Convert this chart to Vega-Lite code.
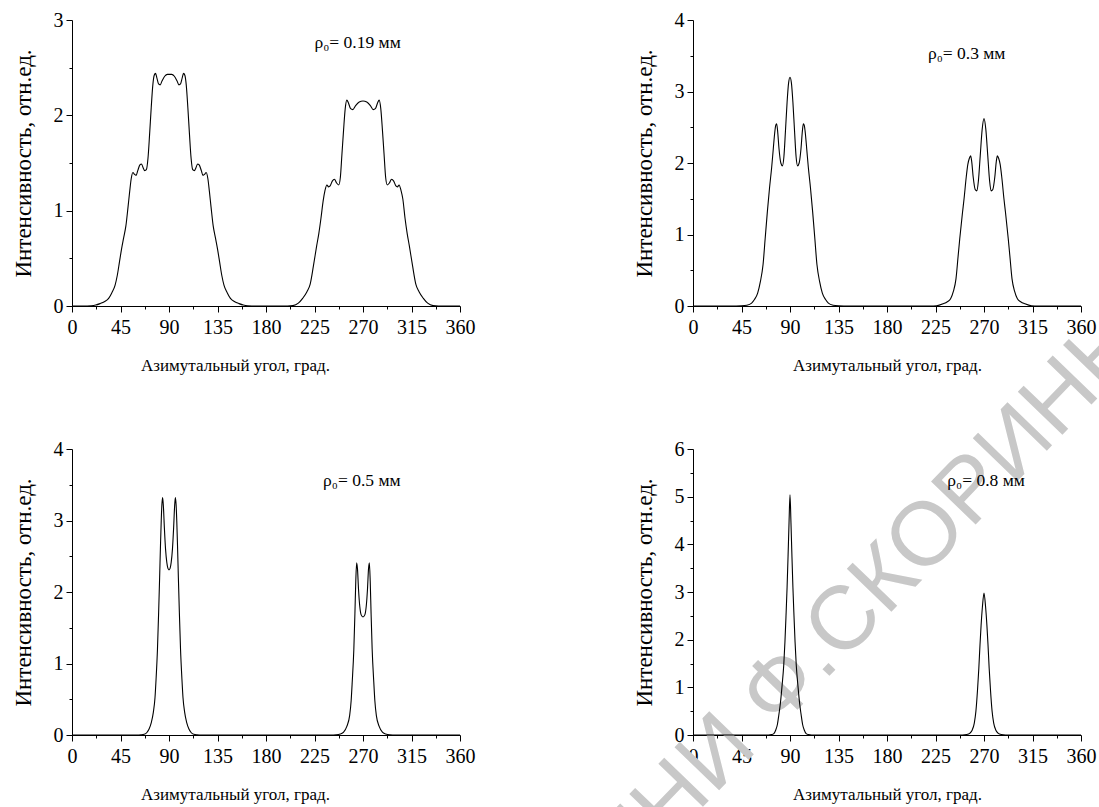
{
  "$schema": "https://vega.github.io/schema/vega-lite/v6.json",
  "background": "white",
  "padding": {"left": 12, "top": 10, "right": 0, "bottom": 0},
  "config": {
    "view": {"stroke": null},
    "font": "Liberation Serif",
    "axis": {
      "labelFont": "Liberation Serif", "titleFont": "Liberation Serif",
      "labelFontSize": 20, "labelColor": "#000", "titleColor": "#000",
      "titleFontWeight": "normal", "domainColor": "#000", "tickColor": "#000",
      "grid": false, "domainWidth": 1, "tickWidth": 1, "labelFlush": false, "labelOverlap": false
    }
  },
  "datasets": {
    "p1": [
      {"a":0,"i":0},{"a":10,"i":0},{"a":18,"i":0.003},{"a":22,"i":0.01},{"a":26,"i":0.025},{"a":30,"i":0.045},{"a":34,"i":0.08},{"a":37,"i":0.14},{"a":40,"i":0.22},{"a":42,"i":0.32},{"a":44,"i":0.46},{"a":46,"i":0.6},{"a":48,"i":0.72},{"a":50,"i":0.84},{"a":52,"i":1.04},{"a":53.5,"i":1.2},{"a":55,"i":1.34},{"a":56.5,"i":1.4},{"a":58,"i":1.38},{"a":59.5,"i":1.37},{"a":61,"i":1.42},{"a":63,"i":1.48},{"a":64.5,"i":1.49},{"a":66,"i":1.45},{"a":67.5,"i":1.42},{"a":69,"i":1.43},{"a":70.5,"i":1.55},{"a":72,"i":1.8},{"a":73.5,"i":2.08},{"a":75,"i":2.32},{"a":76.3,"i":2.42},{"a":77.5,"i":2.44},{"a":78.8,"i":2.39},{"a":80.3,"i":2.33},{"a":81.8,"i":2.32},{"a":83.5,"i":2.36},{"a":86,"i":2.41},{"a":88.5,"i":2.43},{"a":90.5,"i":2.43},{"a":92.5,"i":2.43},{"a":95,"i":2.41},{"a":97.5,"i":2.36},{"a":99.2,"i":2.32},{"a":100.7,"i":2.33},{"a":102.2,"i":2.39},{"a":103.5,"i":2.44},{"a":104.7,"i":2.42},{"a":106,"i":2.32},{"a":107.5,"i":2.08},{"a":109,"i":1.8},{"a":110.5,"i":1.55},{"a":112,"i":1.43},{"a":113.5,"i":1.42},{"a":115,"i":1.45},{"a":116.5,"i":1.49},{"a":118,"i":1.48},{"a":120,"i":1.42},{"a":121.5,"i":1.37},{"a":123,"i":1.38},{"a":124.5,"i":1.4},{"a":126,"i":1.34},{"a":127.5,"i":1.2},{"a":129,"i":1.04},{"a":131,"i":0.84},{"a":133,"i":0.72},{"a":135,"i":0.6},{"a":137,"i":0.46},{"a":139,"i":0.32},{"a":141,"i":0.22},{"a":144,"i":0.14},{"a":147,"i":0.08},{"a":151,"i":0.045},{"a":155,"i":0.025},{"a":159,"i":0.01},{"a":163,"i":0.003},{"a":171,"i":0},{"a":200,"i":0},
      {"a":205,"i":0.004},{"a":210,"i":0.03},{"a":214,"i":0.08},{"a":218,"i":0.15},{"a":221,"i":0.23},{"a":224,"i":0.42},{"a":227,"i":0.63},{"a":229,"i":0.76},{"a":231,"i":0.92},{"a":233,"i":1.1},{"a":234.7,"i":1.21},{"a":236.5,"i":1.27},{"a":238,"i":1.25},{"a":239.5,"i":1.26},{"a":241.5,"i":1.31},{"a":243.5,"i":1.33},{"a":245.5,"i":1.29},{"a":247.5,"i":1.27},{"a":249,"i":1.35},{"a":250.5,"i":1.6},{"a":252,"i":1.85},{"a":253.5,"i":2.07},{"a":255,"i":2.16},{"a":256.5,"i":2.13},{"a":258.5,"i":2.07},{"a":260.5,"i":2.06},{"a":263,"i":2.1},{"a":266.5,"i":2.14},{"a":270,"i":2.15},{"a":273.5,"i":2.14},{"a":277,"i":2.1},{"a":279.5,"i":2.06},{"a":281.5,"i":2.07},{"a":283.5,"i":2.13},{"a":285,"i":2.16},{"a":286.5,"i":2.07},{"a":288,"i":1.85},{"a":289.5,"i":1.6},{"a":291,"i":1.35},{"a":292.5,"i":1.27},{"a":294.5,"i":1.29},{"a":296.5,"i":1.33},{"a":298.5,"i":1.31},{"a":300.5,"i":1.26},{"a":302,"i":1.25},{"a":303.5,"i":1.27},{"a":305.3,"i":1.21},{"a":307,"i":1.12},{"a":309,"i":0.92},{"a":311,"i":0.76},{"a":313,"i":0.63},{"a":316,"i":0.42},{"a":319,"i":0.23},{"a":322,"i":0.15},{"a":326,"i":0.08},{"a":330,"i":0.03},{"a":335,"i":0.004},{"a":340,"i":0},{"a":360,"i":0}
    ],
    "p2": [
      {"a":0,"i":0},{"a":40,"i":0},{"a":45,"i":0.002},{"a":50,"i":0.01},{"a":54.4,"i":0.04},{"a":57,"i":0.09},{"a":60,"i":0.18},{"a":62.5,"i":0.34},{"a":65,"i":0.58},{"a":67,"i":0.95},{"a":69,"i":1.32},{"a":71,"i":1.65},{"a":73,"i":1.94},{"a":74.5,"i":2.2},{"a":75.8,"i":2.42},{"a":76.8,"i":2.53},{"a":77.6,"i":2.55},{"a":78.5,"i":2.45},{"a":79.8,"i":2.2},{"a":81.5,"i":2.0},{"a":83,"i":1.96},{"a":84.3,"i":2.08},{"a":85.8,"i":2.45},{"a":87.3,"i":2.85},{"a":88.7,"i":3.12},{"a":90,"i":3.2},{"a":91.3,"i":3.12},{"a":92.7,"i":2.85},{"a":94.2,"i":2.45},{"a":95.7,"i":2.08},{"a":97,"i":1.96},{"a":98.5,"i":2.0},{"a":100.2,"i":2.2},{"a":101.5,"i":2.45},{"a":102.4,"i":2.55},{"a":103.2,"i":2.53},{"a":104.2,"i":2.42},{"a":105.5,"i":2.2},{"a":107,"i":1.94},{"a":109,"i":1.65},{"a":111,"i":1.32},{"a":113,"i":0.95},{"a":115,"i":0.58},{"a":117.5,"i":0.34},{"a":120,"i":0.18},{"a":123,"i":0.09},{"a":125.6,"i":0.04},{"a":130,"i":0.01},{"a":135,"i":0.002},{"a":140,"i":0},
      {"a":220,"i":0},{"a":226,"i":0.003},{"a":232,"i":0.03},{"a":236,"i":0.06},{"a":239,"i":0.1},{"a":241.5,"i":0.2},{"a":244,"i":0.38},{"a":246,"i":0.7},{"a":247.5,"i":0.94},{"a":250,"i":1.3},{"a":251.5,"i":1.5},{"a":253.5,"i":1.8},{"a":255,"i":1.98},{"a":256.5,"i":2.07},{"a":257.6,"i":2.1},{"a":258.6,"i":2.02},{"a":260,"i":1.8},{"a":261.8,"i":1.63},{"a":263.4,"i":1.61},{"a":264.8,"i":1.75},{"a":266.5,"i":2.1},{"a":268.3,"i":2.47},{"a":270,"i":2.62},{"a":271.7,"i":2.47},{"a":273.5,"i":2.1},{"a":275.2,"i":1.75},{"a":276.6,"i":1.61},{"a":278.2,"i":1.63},{"a":280,"i":1.8},{"a":281.4,"i":2.02},{"a":282.4,"i":2.1},{"a":283.5,"i":2.07},{"a":285,"i":1.98},{"a":286.5,"i":1.8},{"a":288.5,"i":1.5},{"a":290,"i":1.3},{"a":292.5,"i":0.94},{"a":294,"i":0.7},{"a":296,"i":0.38},{"a":298.5,"i":0.2},{"a":301,"i":0.1},{"a":304,"i":0.06},{"a":308,"i":0.03},{"a":314,"i":0.003},{"a":320,"i":0},{"a":360,"i":0}
    ],
    "p3": [
      {"a":0,"i":0},{"a":60,"i":0},{"a":64,"i":0.003},{"a":67,"i":0.01},{"a":69.5,"i":0.035},{"a":71.4,"i":0.08},{"a":73.5,"i":0.17},{"a":75.5,"i":0.32},{"a":77,"i":0.52},{"a":78,"i":0.78},{"a":79.3,"i":1.2},{"a":80.4,"i":1.72},{"a":81.3,"i":2.2},{"a":82.1,"i":2.65},{"a":82.8,"i":3.0},{"a":83.4,"i":3.22},{"a":84.1,"i":3.32},{"a":84.8,"i":3.2},{"a":85.7,"i":2.9},{"a":86.8,"i":2.6},{"a":88,"i":2.41},{"a":89,"i":2.33},{"a":90,"i":2.31},{"a":91,"i":2.33},{"a":92,"i":2.41},{"a":93.2,"i":2.6},{"a":94.3,"i":2.9},{"a":95.2,"i":3.2},{"a":95.9,"i":3.32},{"a":96.6,"i":3.22},{"a":97.2,"i":3.0},{"a":97.9,"i":2.65},{"a":98.7,"i":2.2},{"a":99.6,"i":1.72},{"a":100.7,"i":1.2},{"a":102,"i":0.78},{"a":103,"i":0.52},{"a":104.5,"i":0.32},{"a":106.5,"i":0.17},{"a":108.6,"i":0.08},{"a":110.5,"i":0.035},{"a":113,"i":0.01},{"a":116,"i":0.003},{"a":120,"i":0},
      {"a":240,"i":0},{"a":245,"i":0.003},{"a":249,"i":0.015},{"a":252,"i":0.04},{"a":255,"i":0.12},{"a":257.6,"i":0.27},{"a":259,"i":0.48},{"a":260,"i":0.74},{"a":261.5,"i":1.2},{"a":262.5,"i":1.7},{"a":263.3,"i":2.15},{"a":264.1,"i":2.41},{"a":264.9,"i":2.32},{"a":265.8,"i":2.05},{"a":267,"i":1.8},{"a":268.3,"i":1.68},{"a":270,"i":1.65},{"a":271.7,"i":1.68},{"a":273,"i":1.8},{"a":274.2,"i":2.05},{"a":275.1,"i":2.32},{"a":275.9,"i":2.41},{"a":276.7,"i":2.15},{"a":277.5,"i":1.7},{"a":278.5,"i":1.2},{"a":280,"i":0.74},{"a":281,"i":0.48},{"a":282.4,"i":0.27},{"a":285,"i":0.12},{"a":288,"i":0.04},{"a":291,"i":0.015},{"a":295,"i":0.003},{"a":300,"i":0},{"a":360,"i":0}
    ],
    "p4": [
      {"a":0,"i":0},{"a":70,"i":0},{"a":73,"i":0.01},{"a":75,"i":0.03},{"a":76.7,"i":0.1},{"a":78.3,"i":0.22},{"a":79.7,"i":0.43},{"a":81,"i":0.65},{"a":82.5,"i":1.0},{"a":84.2,"i":1.47},{"a":85.3,"i":1.95},{"a":86.3,"i":2.5},{"a":87.3,"i":3.1},{"a":88.2,"i":3.75},{"a":89.1,"i":4.45},{"a":90,"i":5.04},{"a":90.9,"i":4.45},{"a":91.8,"i":3.75},{"a":92.7,"i":3.1},{"a":93.7,"i":2.5},{"a":94.7,"i":1.95},{"a":95.8,"i":1.47},{"a":97.5,"i":1.0},{"a":99,"i":0.65},{"a":100.3,"i":0.43},{"a":101.7,"i":0.22},{"a":103.3,"i":0.1},{"a":105,"i":0.03},{"a":107,"i":0.01},{"a":110,"i":0},
      {"a":250,"i":0},{"a":254,"i":0.01},{"a":257,"i":0.04},{"a":259,"i":0.1},{"a":261,"i":0.25},{"a":262.5,"i":0.5},{"a":264,"i":0.95},{"a":265.2,"i":1.4},{"a":266.3,"i":1.9},{"a":267.3,"i":2.3},{"a":268.5,"i":2.68},{"a":270,"i":2.98},{"a":271.5,"i":2.68},{"a":272.7,"i":2.3},{"a":273.7,"i":1.9},{"a":274.8,"i":1.4},{"a":276,"i":0.95},{"a":277.5,"i":0.5},{"a":279,"i":0.25},{"a":281,"i":0.1},{"a":283,"i":0.04},{"a":286,"i":0.01},{"a":290,"i":0},{"a":360,"i":0}
    ]
  },
  "columns": 2,
  "bounds": "flush",
  "spacing": {"row": 143, "column": 233},
  "concat": [
    {
      "width": 388, "height": 286,
      "data": {"name": "p1"},
      "layer": [
        {"mark": {"type": "line", "color": "#000", "strokeWidth": 1.1, "interpolate": "monotone"},
         "encoding": {
           "x": {"field": "a", "type": "quantitative", "scale": {"domain": [0, 360], "nice": false, "zero": false},
                 "axis": {"values": [0,45,90,135,180,225,270,315,360], "title": "Азимутальный угол, град.", "titleFontSize": 17, "titlePadding": 20, "titleX": 163, "tickSize": 6, "labelPadding": 5}},
           "y": {"field": "i", "type": "quantitative", "scale": {"domain": [0, 3], "nice": false},
                 "axis": {"values": [0,1,2,3], "title": "Интенсивность, отн.ед.", "titleFontSize": 23, "titlePadding": 18, "tickSize": 6, "labelPadding": 3}}
         }},
        {"mark": {"type": "line", "opacity": 0},
         "encoding": {
           "x": {"field": "a", "type": "quantitative", "axis": {"orient": "bottom", "values": [22.5,67.5,112.5,157.5,202.5,247.5,292.5,337.5], "labels": false, "domain": false, "title": null, "tickSize": 3}},
           "y": {"field": "i", "type": "quantitative", "axis": {"orient": "left", "values": [0.5,1.5,2.5], "labels": false, "domain": false, "title": null, "tickSize": 3}}
         }},
        {"data": {"values": [{}]},
         "mark": {"type": "text", "align": "left", "baseline": "alphabetic", "fontSize": 17.5, "font": "Liberation Serif", "color": "#000"},
         "encoding": {
           "x": {"datum": 225, "type": "quantitative", "axis": null},
           "y": {"datum": 2.71, "type": "quantitative", "axis": null},
           "text": {"value": "ρ₀= 0.19 мм"}
         }}
      ],
      "resolve": {"axis": {"x": "independent", "y": "independent"}}
    },
    {
      "width": 388, "height": 286,
      "data": {"name": "p2"},
      "layer": [
        {"mark": {"type": "line", "color": "#000", "strokeWidth": 1.1, "interpolate": "monotone"},
         "encoding": {
           "x": {"field": "a", "type": "quantitative", "scale": {"domain": [0, 360], "nice": false, "zero": false},
                 "axis": {"values": [0,45,90,135,180,225,270,315,360], "title": "Азимутальный угол, град.", "titleFontSize": 17, "titlePadding": 20, "tickSize": 6, "labelPadding": 5}},
           "y": {"field": "i", "type": "quantitative", "scale": {"domain": [0, 4], "nice": false},
                 "axis": {"values": [0,1,2,3,4], "title": "Интенсивность, отн.ед.", "titleFontSize": 23, "titlePadding": 18, "tickSize": 6, "labelPadding": 3}}
         }},
        {"mark": {"type": "line", "opacity": 0},
         "encoding": {
           "x": {"field": "a", "type": "quantitative", "axis": {"orient": "bottom", "values": [22.5,67.5,112.5,157.5,202.5,247.5,292.5,337.5], "labels": false, "domain": false, "title": null, "tickSize": 3}},
           "y": {"field": "i", "type": "quantitative", "axis": {"orient": "left", "values": [0.5,1.5,2.5,3.5], "labels": false, "domain": false, "title": null, "tickSize": 3}}
         }},
        {"data": {"values": [{}]},
         "mark": {"type": "text", "align": "left", "baseline": "alphabetic", "fontSize": 17.5, "font": "Liberation Serif", "color": "#000"},
         "encoding": {
           "x": {"datum": 218, "type": "quantitative", "axis": null},
           "y": {"datum": 3.45, "type": "quantitative", "axis": null},
           "text": {"value": "ρ₀= 0.3 мм"}
         }}
      ],
      "resolve": {"axis": {"x": "independent", "y": "independent"}}
    },
    {
      "width": 388, "height": 286,
      "data": {"name": "p3"},
      "layer": [
        {"mark": {"type": "line", "color": "#000", "strokeWidth": 1.1, "interpolate": "monotone"},
         "encoding": {
           "x": {"field": "a", "type": "quantitative", "scale": {"domain": [0, 360], "nice": false, "zero": false},
                 "axis": {"values": [0,45,90,135,180,225,270,315,360], "title": "Азимутальный угол, град.", "titleFontSize": 17, "titlePadding": 20, "titleX": 163, "tickSize": 6, "labelPadding": 5}},
           "y": {"field": "i", "type": "quantitative", "scale": {"domain": [0, 4], "nice": false},
                 "axis": {"values": [0,1,2,3,4], "title": "Интенсивность, отн.ед.", "titleFontSize": 23, "titlePadding": 18, "tickSize": 6, "labelPadding": 3}}
         }},
        {"mark": {"type": "line", "opacity": 0},
         "encoding": {
           "x": {"field": "a", "type": "quantitative", "axis": {"orient": "bottom", "values": [22.5,67.5,112.5,157.5,202.5,247.5,292.5,337.5], "labels": false, "domain": false, "title": null, "tickSize": 3}},
           "y": {"field": "i", "type": "quantitative", "axis": {"orient": "left", "values": [0.5,1.5,2.5,3.5], "labels": false, "domain": false, "title": null, "tickSize": 3}}
         }},
        {"data": {"values": [{}]},
         "mark": {"type": "text", "align": "left", "baseline": "alphabetic", "fontSize": 17.5, "font": "Liberation Serif", "color": "#000"},
         "encoding": {
           "x": {"datum": 233, "type": "quantitative", "axis": null},
           "y": {"datum": 3.48, "type": "quantitative", "axis": null},
           "text": {"value": "ρ₀= 0.5 мм"}
         }}
      ],
      "resolve": {"axis": {"x": "independent", "y": "independent"}}
    },
    {
      "width": 388, "height": 286,
      "data": {"name": "p4"},
      "layer": [
        {"data": {"values": [{}]},
         "mark": {"type": "text", "align": "center", "baseline": "middle", "fontSize": 90, "font": "Liberation Sans", "angle": -46, "color": "#c8c8c8"},
         "encoding": {
           "x": {"datum": 167, "type": "quantitative", "axis": null},
           "y": {"datum": 3.0, "type": "quantitative", "axis": null},
           "text": {"value": "ЕНИ Ф.СКОРИНЫ"}
         }},
        {"mark": {"type": "line", "color": "#000", "strokeWidth": 1.1, "interpolate": "monotone"},
         "encoding": {
           "x": {"field": "a", "type": "quantitative", "scale": {"domain": [0, 360], "nice": false, "zero": false},
                 "axis": {"values": [0,45,90,135,180,225,270,315,360], "title": "Азимутальный угол, град.", "titleFontSize": 17, "titlePadding": 20, "tickSize": 6, "labelPadding": 5}},
           "y": {"field": "i", "type": "quantitative", "scale": {"domain": [0, 6], "nice": false},
                 "axis": {"values": [0,1,2,3,4,5,6], "title": "Интенсивность, отн.ед.", "titleFontSize": 23, "titlePadding": 18, "tickSize": 6, "labelPadding": 3}}
         }},
        {"mark": {"type": "line", "opacity": 0},
         "encoding": {
           "x": {"field": "a", "type": "quantitative", "axis": {"orient": "bottom", "values": [22.5,67.5,112.5,157.5,202.5,247.5,292.5,337.5], "labels": false, "domain": false, "title": null, "tickSize": 3}},
           "y": {"field": "i", "type": "quantitative", "axis": {"orient": "left", "values": [0.5,1.5,2.5,3.5,4.5,5.5], "labels": false, "domain": false, "title": null, "tickSize": 3}}
         }},
        {"data": {"values": [{}]},
         "mark": {"type": "text", "align": "left", "baseline": "alphabetic", "fontSize": 17.5, "font": "Liberation Serif", "color": "#000"},
         "encoding": {
           "x": {"datum": 236, "type": "quantitative", "axis": null},
           "y": {"datum": 5.22, "type": "quantitative", "axis": null},
           "text": {"value": "ρ₀= 0.8 мм"}
         }}
      ],
      "resolve": {"axis": {"x": "independent", "y": "independent"}}
    }
  ]
}
